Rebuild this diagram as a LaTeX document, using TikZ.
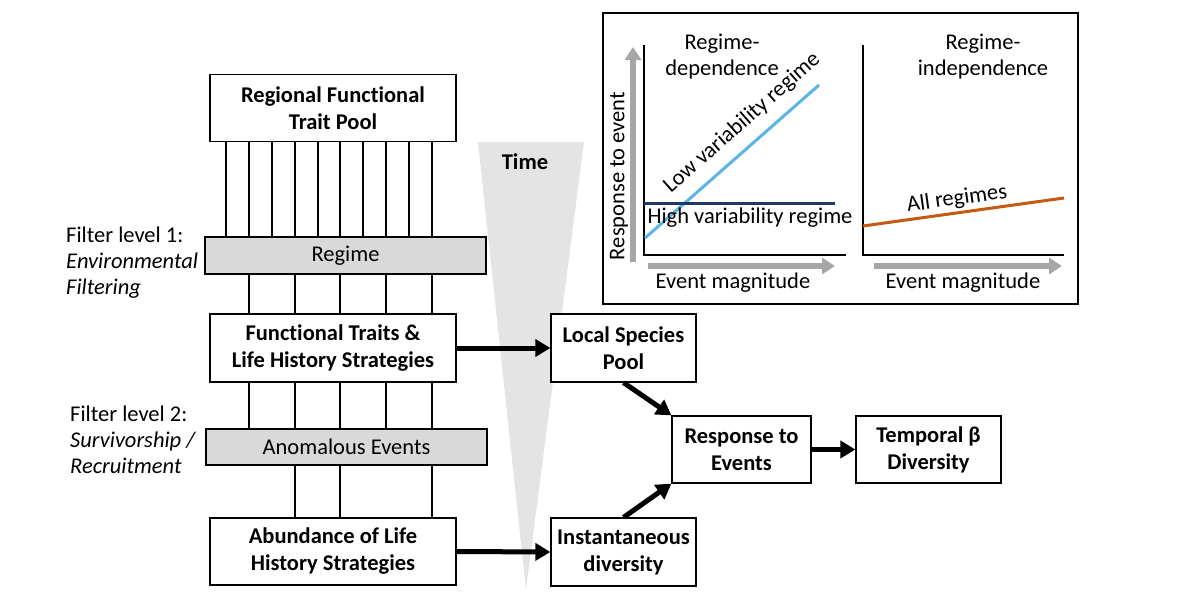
\documentclass[tikz,border=0pt]{standalone}
\usepackage{fontspec}
\setmainfont{Carlito}[Ligatures=NoCommon]
\usetikzlibrary{arrows.meta}
\definecolor{lowblue}{HTML}{5BB4E5}
\definecolor{navy}{HTML}{1F3864}
\definecolor{rust}{HTML}{C55A11}
\definecolor{boxgray}{HTML}{D9D9D9}
\definecolor{timegray}{HTML}{E4E4E4}
\definecolor{axgray}{HTML}{A6A6A6}
\begin{document}
\begin{tikzpicture}[x=1pt,y=-1pt,
  box/.style={draw,line width=1.2pt,fill=white,font=\bfseries\fontsize{22.5}{27}\selectfont,align=center,inner sep=0pt},
  filt/.style={draw,line width=1.2pt,fill=boxgray,font=\fontsize{22.5}{27}\selectfont,inner sep=0pt},
  conn/.style={line width=2pt},
  big/.style={line width=5pt,-{Triangle[length=15pt,width=17pt]}},
  txt/.style={font=\fontsize{22.5}{26}\selectfont,inner sep=0pt,align=center},
  gax/.style={line width=6pt,axgray,-{Triangle[length=13pt,width=16pt]}},
  ax/.style={line width=1.2pt}]
\useasboundingbox (0,0) rectangle (1200,600);
% time triangle
\fill[timegray] (478,142) -- (584,142) -- (526,590) -- cycle;
\node[font=\bfseries\fontsize{22.5}{26}\selectfont] (time) at (525,162) {Time};
% left column boxes
\node[box,minimum width=246pt,minimum height=67pt] (pool) at (333,108) {Regional Functional\\Trait Pool};
\node[filt,minimum width=281pt,minimum height=37pt] (regime) at (345.5,255.5) {Regime};
\node[box,minimum width=246pt,minimum height=68pt] (ft) at (333,348) {Functional Traits \&\\Life History Strategies};
\node[filt,minimum width=281pt,minimum height=36pt] (anom) at (346.5,447) {Anomalous Events};
\node[box,minimum width=246pt,minimum height=67pt] (ab) at (333,551.5) {Abundance of Life\\History Strategies};
% vertical connectors
\foreach \x [count=\i] in {226,249,272,295,318,340,363,386,409,432} {
  \coordinate (a\i) at (\x,0);
  \draw[conn] (pool.south -| a\i) -- (regime.north -| a\i);
}
\foreach \x [count=\i] in {249,295,340,386,432} {
  \coordinate (b\i) at (\x,0);
  \draw[conn] (regime.south -| b\i) -- (ft.north -| b\i);
  \draw[conn] (ft.south -| b\i) -- (anom.north -| b\i);
}
\foreach \x [count=\i] in {295,340,432} {
  \coordinate (d\i) at (\x,0);
  \draw[conn] (anom.south -| d\i) -- (ab.north -| d\i);
}
% filter labels
\node[txt,align=left,anchor=west] (f1) at (66,263) {Filter level 1:\\\textit{Environmental}\\\textit{Filtering}};
\node[txt,align=left,anchor=west] (f2) at (70,440) {Filter level 2:\\\textit{Survivorship /}\\\textit{Recruitment}};
% right boxes
\node[box,minimum width=145pt,minimum height=68pt] (lsp) at (623.5,348) {Local Species\\Pool};
\node[box,minimum width=145pt,minimum height=68pt] (inst) at (623.5,552) {Instantaneous\\diversity};
\node[box,minimum width=139pt,minimum height=67pt] (resp) at (741.5,449.5) {Response to\\Events};
\node[box,minimum width=145pt,minimum height=67pt] (temp) at (928.5,449.5) {Temporal β\\Diversity};
% arrows
\draw[big] (ft.east) -- (lsp.west);
\draw[big] (ab.east) -- (inst.west);
\draw[big] (lsp.south) -- (resp.north west);
\draw[big] (inst.north) -- (resp.south west);
\draw[big] (resp.east) -- (temp.west);
% inset
\draw[line width=2.5pt] (603,13) rectangle (1078,304);
\draw[ax] (644,45) -- (644,255) -- (846,255);
\draw[ax] (863,45) -- (863,255) -- (1064,255);
\draw[gax] (633,262) -- (633,47);
\draw[gax] (648,266) -- (835,266);
\draw[gax] (874,266) -- (1062,266);
\draw[line width=3pt,lowblue] (645,238) -- (819,85);
\draw[line width=3pt,navy] (644,203) -- (835,203);
\draw[line width=3pt,rust] (863,226) -- (1064,198);
\node[txt,rotate=90] (ylab) at (619,176) {Response to event};
\node[txt] (xl1) at (733,283) {Event magnitude};
\node[txt] (xl2) at (963,283) {Event magnitude};
\node[txt] (t1) at (722,57) {Regime-\\dependence};
\node[txt] (t2) at (983,57) {Regime-\\independence};
\node[txt] (hv) at (750,218) {High variability regime};
\node[txt,rotate=41.5] (lv) at (742,123) {Low variability regime};
\node[txt,rotate=8] (all) at (957,199) {All regimes};
\end{tikzpicture}
\end{document}
